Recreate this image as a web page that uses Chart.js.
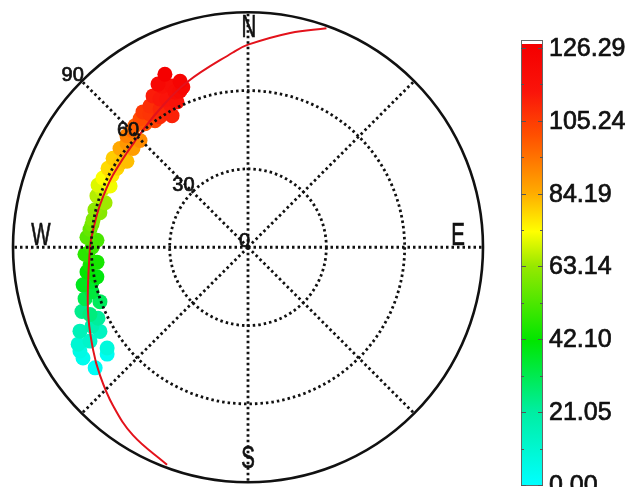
<!DOCTYPE html>
<html>
<head>
<meta charset="utf-8">
<script src="https://cdn.jsdelivr.net/npm/chart.js@4/dist/chart.umd.min.js"></script>
<style>
  body { margin: 0; background: #fff; }
  canvas { display: block; }
</style>
</head>
<body>
<canvas id="sky" width="633" height="487"></canvas>
<script>
// точки спостереження: азимут (град), зенітний кут (град), значення
const azimuth = [231.4, 232.5, 235.8, 238.0, 234.1, 240.0, 239.0, 240.1, 243.2, 242.9,
  244.4, 248.6, 246.7, 249.6, 252.3, 253.9, 257.4, 257.0, 258.8, 261.2,
  263.5, 264.3, 267.1, 267.5, 270.0, 272.7, 273.6, 276.5, 278.4, 280.2,
  283.3, 283.9, 287.5, 289.0, 291.7, 292.8, 294.2, 295.8, 298.2, 299.7,
  301.4, 303.7, 303.6, 305.7, 308.0, 311.0, 311.0, 315.0, 313.0, 315.5,
  317.4, 320.5, 320.3, 324.0, 322.5, 324.0, 325.6, 326.3, 329.4, 327.9,
  330.3, 328.2, 329.6, 331.7, 331.6, 334.2, 332.2, 335.0, 335.1, 336.7,
  331.4, 338.1, 338.0, 334.6];
const zenith = [74.9, 68.0, 76.4, 75.9, 66.6, 75.1, 70.6, 65.4, 72.1, 67.1,
  63.7, 68.3, 65.9, 60.5, 65.5, 62.2, 61.2, 64.8, 59.0, 62.4,
  60.9, 58.1, 61.4, 62.5, 59.7, 57.9, 61.8, 60.9, 60.4, 60.3,
  58.3, 60.4, 57.4, 61.2, 60.2, 62.3, 57.9, 61.7, 59.1, 61.7,
  58.8, 62.1, 58.9, 57.1, 62.2, 58.4, 61.4, 58.5, 63.4, 63.4,
  64.0, 62.0, 64.7, 60.6, 66.1, 63.9, 66.4, 60.8, 61.0, 63.3,
  58.7, 69.0, 66.6, 63.0, 65.3, 62.5, 70.6, 68.9, 66.3, 65.9,
  72.0, 66.9, 69.4, 74.2];
const values = [2, 3, 4, 6, 8, 10, 12, 14, 16, 18,
  22, 24, 26, 30, 32, 34, 36, 38, 40, 42,
  44, 45, 47, 48, 50, 52, 54, 56, 58, 60,
  61, 62, 64, 66, 68, 70, 72, 73, 76, 78,
  79, 80, 81, 82, 85, 87, 88, 90, 92, 95,
  98, 100, 102, 104, 106, 107, 108, 109, 110, 110,
  111, 112, 113, 113, 114, 115, 117, 118, 119, 120,
  121, 122, 124, 126];

// червона траєкторія
const trackAz = [19.5, 11.0, 0.0, 355.6, 339.9, 327.8, 314.7, 298.4, 286.2, 276.3,
  270.0, 248.5, 236.4, 228.7, 220.2, 211.2, 200.2];
const trackZen = [90.0, 84.6, 78.5, 75.7, 68.1, 63.3, 59.9, 58.8, 59.0, 59.7,
  60.5, 65.9, 71.3, 75.4, 80.2, 85.1, 89.8];

const ringLabels = [0, 30, 60, 90];
const compassLabels = ["N", "E", "S", "W"];
const colorbarTicks = ["0.00", "21.05", "42.10", "63.14", "84.19", "105.24", "126.29"];
const valueMax = 126.29;

// кольорова шкала
const stops = [
  [0.00, [0, 255, 255]],
  [0.17, [0, 238, 160]],
  [0.33, [0, 230, 0]],
  [0.50, [150, 232, 0]],
  [0.58, [255, 255, 0]],
  [0.67, [255, 170, 0]],
  [0.80, [255, 80, 0]],
  [0.90, [250, 20, 10]],
  [1.00, [245, 0, 0]],
];

function colorFor(v) {
  const t = Math.max(0, Math.min(1, v / valueMax));
  for (let i = 1; i < stops.length; i++) {
    if (t <= stops[i][0]) {
      const [t0, c0] = stops[i - 1];
      const [t1, c1] = stops[i];
      const f = (t - t0) / (t1 - t0);
      const c = c0.map((a, k) => Math.round(a + (c1[k] - a) * f));
      return `rgb(${c[0]},${c[1]},${c[2]})`;
    }
  }
  return "rgb(245,0,0)";
}

function toXY(az, zen) {
  const a = (az * Math.PI) / 180;
  return { x: zen * Math.sin(a), y: zen * Math.cos(a) };
}

const points = azimuth.map((a, i) => toXY(a, zenith[i]));
const track = trackAz.map((a, i) => toXY(a, trackZen[i]));
const pointColors = values.map(colorFor);

function boldText(ctx, s, x, y) {
  ctx.fillText(s, x, y);
  ctx.strokeText(s, x, y);
}

const polarGrid = {
  id: "polarGrid",
  afterDatasetsDraw(chart) {
    const ctx = chart.ctx;
    const xs = chart.scales.x;
    const ys = chart.scales.y;
    const cx = xs.getPixelForValue(0);
    const cy = ys.getPixelForValue(0);
    const rad = (r) => xs.getPixelForValue(r) - cx;
    const R = rad(90);

    ctx.save();
    ctx.strokeStyle = "#111";
    // пунктирні кола
    ctx.lineWidth = 2.8;
    ctx.setLineDash([2.5, 3]);
    [30, 60].forEach((r) => {
      ctx.beginPath();
      ctx.arc(cx, cy, rad(r), 0, Math.PI * 2);
      ctx.stroke();
    });
    // радіальні лінії
    for (let k = 0; k < 8; k++) {
      const a = (k * Math.PI) / 4;
      ctx.beginPath();
      ctx.moveTo(cx, cy);
      ctx.lineTo(cx + R * Math.sin(a), cy - R * Math.cos(a));
      ctx.stroke();
    }
    // зовнішнє коло
    ctx.setLineDash([]);
    ctx.lineWidth = 2.6;
    ctx.beginPath();
    ctx.arc(cx, cy, R, 0, Math.PI * 2);
    ctx.stroke();

    // підписи кілець вздовж діагоналі NW
    ctx.fillStyle = "#111";
    ctx.lineWidth = 0.7;
    ctx.font = "20px 'Liberation Sans', Arial, sans-serif";
    ctx.textAlign = "right";
    ctx.textBaseline = "bottom";
    ringLabels.forEach((r) => {
      const d = rad(r) * Math.SQRT1_2;
      boldText(ctx, String(r), cx - d + 2, cy - d + 4);
    });

    // сторони світу
    ctx.font = "31px 'Liberation Sans', Arial, sans-serif";
    ctx.textAlign = "center";
    ctx.textBaseline = "middle";
    const pos = { N: [1, -219], E: [210, -11], S: [0, 212], W: [-207, -11] };
    compassLabels.forEach((lab) => {
      ctx.save();
      ctx.translate(cx + pos[lab][0], cy + pos[lab][1]);
      ctx.scale(0.66, 1);
      boldText(ctx, lab, 0, 0);
      ctx.restore();
    });
    ctx.restore();
  },
  afterDraw(chart) {
    // шкала кольорів
    const ctx = chart.ctx;
    const left = 521, width = 22, top = 44, bottom = 485;
    const yOf = (v) => bottom - (v / valueMax) * (bottom - 48);
    ctx.save();
    const grad = ctx.createLinearGradient(0, bottom, 0, yOf(valueMax));
    stops.forEach(([t]) => grad.addColorStop(t, colorFor(t * valueMax)));
    ctx.fillStyle = grad;
    ctx.fillRect(left, top, width, bottom - top);
    ctx.fillStyle = "#fff";
    ctx.fillRect(left, 40, width, 4);
    ctx.strokeStyle = "#666";
    ctx.lineWidth = 1;
    ctx.strokeRect(left + 0.5, 40.5, width - 1, bottom - 40);
    ctx.strokeStyle = "#555";
    for (let i = 0; i < colorbarTicks.length * 2 - 1; i++) {
      const y = Math.round(yOf((i / 2) * (valueMax / 6))) + 0.5;
      const len = i % 2 === 0 ? 5 : 3;
      ctx.beginPath();
      ctx.moveTo(left, y); ctx.lineTo(left + len, y);
      ctx.moveTo(left + width, y); ctx.lineTo(left + width - len, y);
      ctx.stroke();
    }
    ctx.fillStyle = "#111";
    ctx.strokeStyle = "#111";
    ctx.lineWidth = 0.7;
    ctx.font = "25px 'Liberation Sans', Arial, sans-serif";
    ctx.textAlign = "left";
    ctx.textBaseline = "middle";
    colorbarTicks.forEach((lab) => {
      boldText(ctx, lab, 549, yOf(parseFloat(lab)) + 1);
    });
    ctx.restore();
  },
};

new Chart(document.getElementById("sky"), {
  type: "scatter",
  data: {
    datasets: [
      {
        label: "track",
        data: track,
        showLine: true,
        borderColor: "#e3121b",
        borderWidth: 2,
        pointRadius: 0,
        tension: 0.4,
        fill: false,
      },
      {
        label: "obs",
        data: points,
        backgroundColor: pointColors,
        borderColor: pointColors,
        borderWidth: 0,
        pointRadius: 7.5,
      },
    ],
  },
  options: {
    responsive: false,
    animation: false,
    layout: { padding: { left: 13, right: 150, top: 15, bottom: 2 } },
    plugins: { legend: { display: false }, tooltip: { enabled: false } },
    scales: {
      x: { type: "linear", min: -90, max: 90, display: false },
      y: { type: "linear", min: -90, max: 90, display: false },
    },
  },
  plugins: [polarGrid],
});
</script>
</body>
</html>
